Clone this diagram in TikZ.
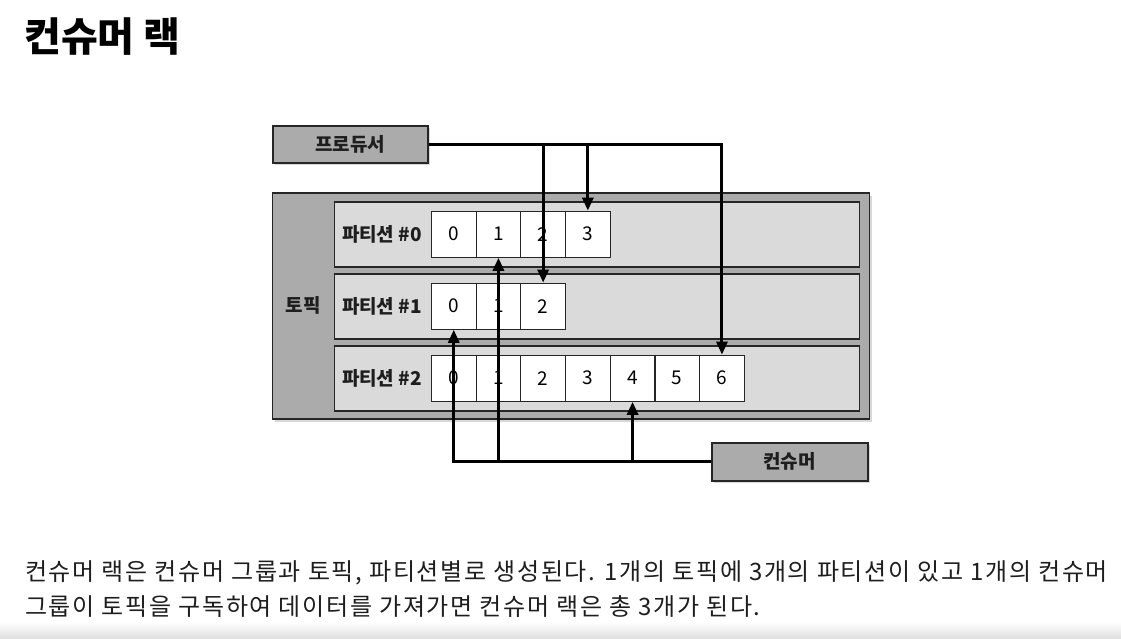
\documentclass[tikz,border=0pt]{standalone}
\usepackage{fontspec}
\setmainfont{Noto Sans CJK KR}
\newfontfamily\bodyfont[LetterSpace=7]{Noto Sans CJK KR}
\usetikzlibrary{arrows.meta,shadows}
\definecolor{boxgray}{HTML}{ABABAB}
\definecolor{rowgray}{HTML}{DADADA}
\definecolor{edgec}{HTML}{262626}
\definecolor{txt}{HTML}{1E1E1E}
\begin{document}
\begin{tikzpicture}[x=1pt,y=-1pt,
  graybox/.style={draw=edgec, line width=1.6pt, fill=boxgray, inner sep=0pt,
    drop shadow={shadow xshift=2.5pt, shadow yshift=-2.5pt, opacity=0.3}},
  rowbox/.style={draw=edgec, line width=1.6pt, fill=rowgray, inner sep=0pt,
    minimum width=525pt, minimum height=65pt},
  cell/.style={draw=edgec, line width=1.2pt, fill=white, inner sep=0pt,
    minimum width=44.7pt, minimum height=46pt, font=\fontsize{19}{22}\selectfont},
  lbl/.style={inner sep=0pt, font=\bfseries\fontsize{19}{22}\selectfont, text=txt},
  flow/.style={line width=3pt, black, -{Triangle[length=13pt,width=11pt]}}]
\useasboundingbox (0,0) rectangle (1121,638);
\clip (0,0) rectangle (1121,638);
\fill[white] (0,0) rectangle (1121,638);
\shade[top color=white, bottom color=black!12] (0,622) rectangle (1121,638);
% title
\node[anchor=base west, inner sep=0pt, font=\bfseries\fontsize{40}{44}\selectfont] (title) at (24,51) {컨슈머 랙};
% topic box
\node[graybox, minimum width=597pt, minimum height=226pt] (topic) at (570.8,306) {};
\node[lbl] (topiclbl) at (303,305) {토픽};
% partitions
\foreach \r in {0,1,2}{
  \node[rowbox] (row\r) at (597.1,{234.2+72*\r}) {};
  \node[lbl] (plbl\r) at (382,{234.5+72*\r}) {파티션 \#\r};
}
% cells
\foreach \r/\n in {0/3,1/2,2/6}{
  \foreach \i in {0,...,\n}{
    \node[cell] (p\r-\i) at ({453.75+44.7*\i},{234.2+72*\r}) {\i};
  }
}
% producer and consumer
\node[graybox, minimum width=155pt, minimum height=37pt, font=\bfseries\fontsize{19}{22}\selectfont, text=txt] (prod) at (350.2,144.2) {프로듀서};
\node[graybox, minimum width=156pt, minimum height=38pt, font=\bfseries\fontsize{19}{22}\selectfont, text=txt] (cons) at (789.7,461.7) {컨슈머};
% producer arrows
\draw[flow] (prod.east) -| (p2-6.north);
\draw[flow] (prod.east -| p1-2) -- (p1-2.north);
\draw[flow] (prod.east -| p0-3) -- (p0-3.north);
% consumer arrows
\draw[flow] (cons.west) -| (p1-0.south);
\draw[flow] (cons.west -| p0-1) -- (p0-1.south);
\draw[flow] (cons.west -| p2-4) -- (p2-4.south);
% body text
\node[anchor=base west, inner sep=0pt, text=txt, font=\bodyfont\fontsize{24}{30}\selectfont] (body1) at (25,580) {컨슈머 랙은 컨슈머 그룹과 토픽, 파티션별로 생성된다. 1개의 토픽에 3개의 파티션이 있고 1개의 컨슈머};
\node[anchor=base west, inner sep=0pt, text=txt, font=\bodyfont\fontsize{24}{30}\selectfont] (body2) at (25,615) {그룹이 토픽을 구독하여 데이터를 가져가면 컨슈머 랙은 총 3개가 된다.};
\end{tikzpicture}
\end{document}
